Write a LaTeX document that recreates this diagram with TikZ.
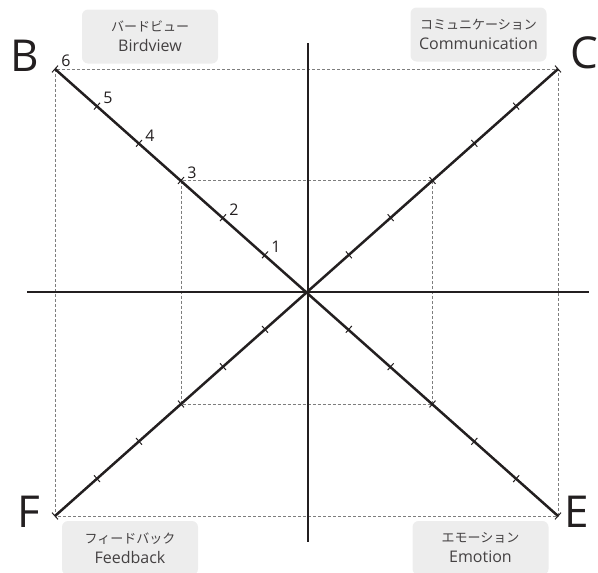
\documentclass[tikz,border=0pt]{standalone}
\usepackage{fontspec}
\setmainfont{Open Sans}
\newfontfamily\jpfont{Noto Sans CJK JP}
\usetikzlibrary{calc}

\begin{document}
\begin{tikzpicture}[
    x=1pt, y=-1pt,
    font=\fontsize{17}{20}\selectfont
]

% Colours
\definecolor{ink}{RGB}{35, 31, 32}
\definecolor{boxgray}{RGB}{237, 237, 237}
\definecolor{dashgray}{RGB}{125, 125, 125}

\tikzset{
    axisline/.style={draw=ink, line width=2.5pt},
    guide/.style={draw=dashgray, line width=0.8pt, dash pattern=on 3pt off 2pt},
    tickmark/.style={draw=ink, line width=1pt},
    corner/.style={text=ink, font=\fontsize{44}{44}\selectfont, inner sep=0pt},
    num/.style={text=ink, font=\fontsize{16}{16}\selectfont, inner sep=0pt, xshift=11pt, yshift=8pt},
    tag/.style={fill=boxgray, rounded corners=6pt, minimum width=136pt, minimum height=54pt,
        align=center, text=ink!85, font=\fontsize{16}{20}\selectfont, inner sep=0pt}
}

\useasboundingbox (0,0) rectangle (598,573);

% Centre, diagonal ends and axis ends
\coordinate (O) at (307,292);
\coordinate (B) at (55,69);
\coordinate (C) at (558,69);
\coordinate (E) at (558,516);
\coordinate (F) at (55,516);
\coordinate (xl) at (27,292);
\coordinate (xr) at (589,292);
\coordinate (yt) at (308,43);
\coordinate (yb) at (308,542);

% Dashed guide squares (level 6 and level 3)
\draw[guide] (B) rectangle (E);
\draw[guide] ($(O)!0.5!(B)$) rectangle ($(O)!0.5!(E)$);

% Axes
\draw[axisline] (xl) -- (xr);
\draw[axisline] (yt) -- (yb);

% Diagonals
\draw[axisline] (B) -- (E);
\draw[axisline] (C) -- (F);

% Tick marks, six per half diagonal
\foreach \c in {B,C,E,F} {
    \foreach \k in {1,...,6} {
        \coordinate (t) at ($(O)!\k/6!(\c)$);
        \draw[tickmark] ($(t)!4.5pt!90:(O)$) -- ($(t)!4.5pt!-90:(O)$);
    }
}

% Scale numbers on the B diagonal
\foreach \k in {1,...,6} {
    \node[num] (n\k) at ($(O)!\k/6!(B)$) {\k};
}

% Corner letters
\node[corner] (lB) at (25,56) {B};
\node[corner] (lC) at (584,53) {C};
\node[corner] (lE) at (577,512) {E};
\node[corner] (lF) at (29,512) {F};

% Label boxes
\node[tag] (birdview) at (150,36.5) {{\jpfont\fontsize{13}{20}\selectfont バードビュー}\\Birdview};
\node[tag] (communication) at (478.5,34.5) {{\jpfont\fontsize{13}{20}\selectfont コミュニケーション}\\Communication};
\node[tag] (feedback) at (130,548) {{\jpfont\fontsize{13}{20}\selectfont フィードバック}\\Feedback};
\node[tag] (emotion) at (480.5,548) {{\jpfont\fontsize{13}{20}\selectfont エモーション}\\Emotion};

\end{tikzpicture}
\end{document}
